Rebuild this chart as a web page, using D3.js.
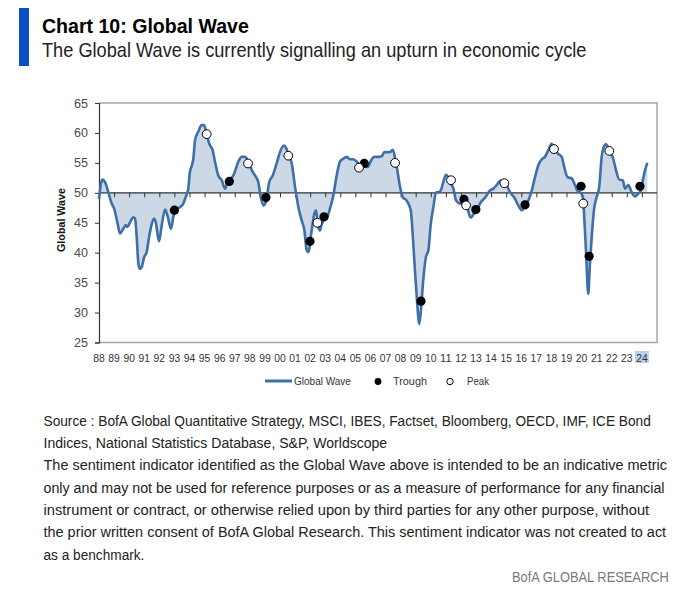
<!DOCTYPE html>
<html>
<head>
<meta charset="utf-8">
<script src="https://cdn.jsdelivr.net/npm/d3@7"></script>
<style>
  html, body { margin: 0; padding: 0; background: #fff; }
  svg { display: block; }
  text { font-family: 'Liberation Sans Narrow', 'Liberation Sans', Arial, sans-serif; }
</style>
</head>
<body>
<svg id="chart" width="682" height="598"></svg>
<script>
// ---------- DATA ----------
const waveYears = [
  1988.00,1988.22,1988.40,1988.62,1988.84,1989.00,1989.24,1989.39,1989.61,1989.77,1989.88,
  1990.06,1990.28,1990.39,1990.50,1990.61,1990.72,1990.83,1991.00,1991.16,1991.32,1991.50,
  1991.65,1991.76,1991.98,1992.16,1992.38,1992.55,1992.77,1992.93,1993.15,1993.37,1993.59,
  1993.75,1993.92,1994.03,1994.15,1994.25,1994.37,1994.58,1994.81,1994.96,1995.14,1995.31,
  1995.54,1995.69,1995.91,1996.14,1996.36,1996.51,1996.70,1996.91,1997.24,1997.46,1997.68,
  1997.90,1998.13,1998.34,1998.56,1998.72,1998.90,1999.07,1999.29,1999.52,1999.78,2000.00,
  2000.27,2000.40,2000.55,2000.78,2001.00,2001.22,2001.44,2001.62,2001.77,2001.88,2002.10,
  2002.28,2002.39,2002.52,2002.65,2002.77,2002.92,2003.10,2003.32,2003.54,2003.76,2003.98,
  2004.20,2004.43,2004.64,2004.86,2005.09,2005.30,2005.42,2005.60,2005.81,2006.04,2006.26,
  2006.52,2006.75,2006.92,2007.08,2007.30,2007.48,2007.63,2007.78,2007.96,2008.14,2008.40,
  2008.67,2008.84,2008.95,2009.07,2009.24,2009.35,2009.50,2009.68,2009.84,2010.00,2010.17,
  2010.35,2010.50,2010.66,2010.83,2011.01,2011.16,2011.34,2011.50,2011.68,2011.94,2012.20,
  2012.42,2012.60,2012.70,2012.78,2012.93,2013.05,2013.26,2013.60,2013.93,2014.15,2014.37,
  2014.66,2014.88,2015.03,2015.25,2015.54,2015.80,2016.03,2016.25,2016.47,2016.70,2016.91,
  2017.13,2017.36,2017.57,2017.79,2018.01,2018.17,2018.41,2018.68,2018.85,2019.07,2019.34,
  2019.56,2019.72,2019.89,2020.00,2020.11,2020.15,2020.29,2020.44,2020.55,2020.67,2020.82,
  2021.00,2021.17,2021.33,2021.45,2021.62,2021.84,2022.06,2022.28,2022.50,2022.73,2022.88,
  2023.10,2023.32,2023.54,2023.76,2023.90,2024.10,2024.21,2024.36
];
const waveValues = [
  49.0,52.2,51.8,50.1,48.2,47.4,44.8,43.2,44.0,44.6,44.3,
  45.1,45.9,45.7,42.6,38.2,37.3,37.6,39.3,40.1,42.6,44.8,
  45.7,45.1,41.9,44.6,47.2,46.1,44.0,46.0,47.4,47.6,48.2,
  49.3,50.7,53.5,54.5,55.6,58.8,60.2,61.3,61.3,59.9,58.2,
  57.1,55.2,52.9,52.1,50.7,51.8,52.3,52.9,55.2,56.0,56.0,
  55.2,53.8,52.9,51.8,49.3,47.9,48.5,51.8,52.9,54.9,56.8,
  57.9,57.5,56.5,54.9,51.0,47.6,45.4,43.7,40.4,40.1,43.7,
  46.5,47.1,44.5,43.7,44.8,45.4,45.7,47.4,49.6,52.9,55.2,
  55.7,56.0,55.6,55.6,55.2,54.5,53.9,54.6,54.3,55.4,56.0,
  56.0,56.1,56.8,56.8,56.8,57.2,55.8,53.8,51.0,49.3,48.7,
  47.1,41.5,37.0,32.6,28.1,30.5,35.4,39.3,40.4,44.8,47.6,
  50.1,50.1,50.4,51.8,53.0,52.6,51.5,50.7,48.7,48.2,48.4,
  47.6,46.0,45.9,46.2,46.8,47.0,48.2,49.2,50.4,50.7,51.3,
  52.1,51.6,51.3,50.1,49.2,47.9,47.1,47.8,48.7,50.4,52.6,
  54.6,55.6,56.0,57.1,58.2,57.5,56.6,56.0,54.3,52.6,52.4,
  51.3,50.4,50.1,49.8,49.0,47.1,40.4,33.1,38.0,42.6,47.1,
  49.3,51.0,56.0,57.5,58.1,57.0,56.0,53.8,52.2,52.1,50.7,
  51.3,50.1,49.4,49.9,50.2,52.6,53.8,55.0
];
const troughYears  = [1993.00,1996.64,1999.07,2001.99,2002.92,2005.59,2009.35,2012.20,2012.99,2016.25,2019.96,2020.50,2023.87];
const troughValues = [47.1,   51.9,   49.2,   41.9,   46.0,   54.9,   31.9,   48.9,   47.2,   48.0,   51.1,   39.4,   51.1];
const peakYears  = [1995.14,1997.88,2000.55,2002.48,2005.24,2007.63,2011.34,2012.34,2014.88,2018.17,2020.11,2021.84];
const peakValues = [59.8,   54.9,   56.2,   45.0,   54.2,   55.0,   52.1,   47.9,   51.6,   57.3,   48.2,   57.0];
const yearLabels = ["88","89","90","91","92","93","94","95","96","97","98","99","00","01","02","03","04","05","06","07","08","09","10","11","12","13","14","15","16","17","18","19","20","21","22","23","24"];
const yTicks = [25,30,35,40,45,50,55,60,65];

const sourceLines = [
  "Source : BofA Global Quantitative Strategy, MSCI, IBES, Factset, Bloomberg, OECD, IMF, ICE Bond",
  "Indices, National Statistics Database, S&P, Worldscope",
  "The sentiment indicator identified as the Global Wave above is intended to be an indicative metric",
  "only and may not be used for reference purposes or as a measure of performance for any financial",
  "instrument or contract, or otherwise relied upon by third parties for any other purpose, without",
  "the prior written consent of BofA Global Research. This sentiment indicator was not created to act",
  "as a benchmark."
];
const sourceWidths = [608, 344, 624, 622, 606, 623, 101];
const sourceBaselines = [426, 448, 470, 493, 515, 537, 560];

// ---------- DRAW ----------
const svg = d3.select("#chart");
const LINE = "#3d6fa8", FILL = "#cdd8e6";
const x = d3.scaleLinear().domain([1988, 2025]).range([99, 657]);
const y = d3.scaleLinear().domain([25, 65]).range([342.5, 103]);

// text squeezed horizontally to a target width (condensed look)
function fitText(str, px, py, width, attrs, anchor) {
  const g = svg.append("g");
  const t = g.append("text").text(str);
  Object.entries(attrs).forEach(([k, v]) => t.attr(k, v));
  const natural = t.node().getComputedTextLength();
  const s = Math.min(1, width / natural);
  const left = anchor === "end" ? px - natural * s : px;
  g.attr("transform", `translate(${left},${py}) scale(${s},1)`);
  return t;
}

// title
svg.append("rect").attr("x", 19).attr("y", 8).attr("width", 10).attr("height", 58).attr("fill", "#0a52c4");
fitText("Chart 10: Global Wave", 42, 32.5, 207, {"font-size": 21, "font-weight": "bold", "fill": "#000"});
fitText("The Global Wave is currently signalling an upturn in economic cycle", 42, 57, 545,
  {"font-size": 20, "fill": "#222"});

const data = waveYears.map((t, i) => ({t, v: waveValues[i]}));

// area
const area = d3.area().x(d => x(d.t)).y0(y(50)).y1(d => y(d.v)).curve(d3.curveMonotoneX);
svg.append("path").datum(data).attr("d", area).attr("fill", FILL);

// frame (top/right/bottom)
svg.append("path")
  .attr("d", `M${x(1988)},${y(65)}H${x(2025)}V${y(25)}H${x(1988)}`)
  .attr("fill", "none").attr("stroke", "#a6a6a6").attr("stroke-width", 1.5);

// left axis
const yAxis = d3.axisLeft(y).tickValues(yTicks).tickSize(4).tickPadding(7);
const gy = svg.append("g").attr("transform", `translate(${x(1988)},0)`).call(yAxis);
gy.select(".domain").attr("stroke", "#333").attr("stroke-width", 1.2);
gy.selectAll(".tick line").attr("stroke", "#333");
gy.selectAll(".tick text").attr("font-size", 12.5).attr("fill", "#4a4a4a")
  .attr("font-family", "'Liberation Sans', Arial, sans-serif");

// x axis at 50 with ticks down
const xAxis = d3.axisBottom(x).tickValues(d3.range(1988, 2025)).tickSize(4.5).tickFormat("");
const gx = svg.append("g").attr("transform", `translate(0,${y(50)})`).call(xAxis);
gx.select(".domain").attr("stroke", "#333").attr("stroke-width", 1.2)
  .attr("d", `M${x(1988)},0H${x(2025)}`);
gx.selectAll(".tick line").attr("stroke", "#333");

// highlight box behind 24
svg.append("rect").attr("x", x(2024) - 7).attr("y", 351).attr("width", 14).attr("height", 12).attr("fill", "#b9d1ee");

// x labels at bottom
svg.append("g").selectAll("text").data(yearLabels).join("text")
  .attr("x", (d, i) => x(1988 + i)).attr("y", 362).attr("text-anchor", "middle")
  .attr("font-size", 11).attr("fill", "#333")
  .attr("font-family", "'Liberation Sans', Arial, sans-serif")
  .attr("textLength", 11.5).attr("lengthAdjust", "spacingAndGlyphs")
  .text(d => d);

// line
const line = d3.line().x(d => x(d.t)).y(d => y(d.v)).curve(d3.curveMonotoneX);
svg.append("path").datum(data).attr("d", line).attr("fill", "none")
  .attr("stroke", LINE).attr("stroke-width", 2.6).attr("stroke-linejoin", "round");

// markers
svg.append("g").selectAll("circle").data(troughYears).join("circle")
  .attr("cx", d => x(d)).attr("cy", (d, i) => y(troughValues[i])).attr("r", 4.6).attr("fill", "#000");
svg.append("g").selectAll("circle").data(peakYears).join("circle")
  .attr("cx", d => x(d)).attr("cy", (d, i) => y(peakValues[i])).attr("r", 4.4)
  .attr("fill", "#fff").attr("stroke", "#000").attr("stroke-width", 1);

// y title
svg.append("text").attr("transform", "translate(64.5,220) rotate(-90)").attr("text-anchor", "middle")
  .attr("font-size", 11).attr("font-weight", "bold").attr("fill", "#111")
  .attr("textLength", 64).attr("lengthAdjust", "spacingAndGlyphs").text("Global Wave");

// legend
svg.append("line").attr("x1", 265).attr("x2", 292).attr("y1", 381).attr("y2", 381).attr("stroke", LINE).attr("stroke-width", 3);
fitText("Global Wave", 294, 385, 57, {"font-size": 11.5, "fill": "#333"});
svg.append("circle").attr("cx", 378).attr("cy", 381.5).attr("r", 3.4).attr("fill", "#000");
fitText("Trough", 393, 385, 34, {"font-size": 11.5, "fill": "#333"});
svg.append("circle").attr("cx", 450).attr("cy", 381.5).attr("r", 3.2).attr("fill", "#fff").attr("stroke", "#000").attr("stroke-width", 1);
fitText("Peak", 467, 385, 22, {"font-size": 11.5, "fill": "#333"});

// source notes
sourceLines.forEach((s, i) => {
  fitText(s, 43.5, sourceBaselines[i], sourceWidths[i], {"font-size": 15.5, "fill": "#222"});
});
fitText("BofA GLOBAL RESEARCH", 669, 582, 157, {"font-size": 15.5, "fill": "#7a7a7a"}, "end");
</script>
</body>
</html>
